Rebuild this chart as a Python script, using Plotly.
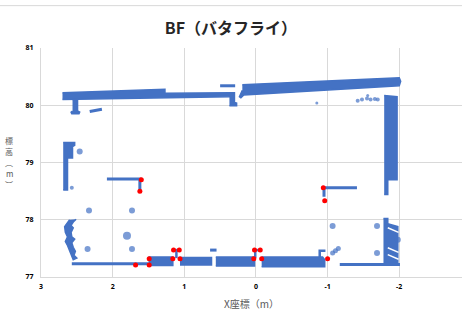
import plotly.graph_objects as go

BLUE = "#4472C4"
RED = "#FF0000"
GRID = "#D9D9D9"

# ---------------- data (metres) ----------------
# filled regions of the point cloud (outlines)
top_left_band_x = [2.70, 1.27, 1.27, 0.37, 0.37, 1.34, 2.70]
top_left_band_y = [80.22, 80.28, 80.21, 80.22, 80.15, 80.13, 80.10]
left_leg_x = [2.56, 2.49, 2.49, 2.46, 2.47, 2.57, 2.58, 2.56]
left_leg_y = [80.10, 80.10, 79.90, 79.88, 79.85, 79.85, 79.88, 79.90]
mid_leg_x = [0.37, 0.30, 0.30, 0.27, 0.27, 0.37]
mid_leg_y = [80.22, 80.22, 80.05, 80.04, 79.99, 79.99]
top_right_band_x = [0.19, -2.00, -2.02, -2.00, 0.17, 0.21, 0.23, 0.19]
top_right_band_y = [80.36, 80.48, 80.42, 80.34, 80.18, 80.13, 80.15, 80.26]
right_wall_up_x = [-1.79, -1.97, -1.97, -1.84, -1.84, -1.79]
right_wall_up_y = [80.17, 80.15, 78.70, 78.70, 78.44, 78.44]
left_wall_up_x = [2.69, 2.53, 2.53, 2.56, 2.56, 2.63, 2.63, 2.69]
left_wall_up_y = [79.35, 79.35, 79.30, 79.28, 79.08, 79.08, 78.52, 78.52]
left_wall_low_x = [2.51, 2.55, 2.58, 2.55, 2.58, 2.57, 2.53, 2.57, 2.55, 2.52, 2.54, 2.50,
                   2.55, 2.58, 2.60, 2.63, 2.66, 2.63, 2.66, 2.67, 2.63, 2.60]
left_wall_low_y = [78.01, 77.96, 77.90, 77.86, 77.78, 77.70, 77.66, 77.60, 77.52, 77.45, 77.38, 77.33,
                   77.30, 77.40, 77.48, 77.55, 77.62, 77.70, 77.78, 77.88, 77.95, 78.00]
right_wall_low_x = [-1.78, -1.84, -1.84, -1.98, -1.98, -1.78]
right_wall_low_y = [78.02, 78.02, 77.93, 77.88, 77.22, 77.22]
block1_x = [1.50, 1.16, 1.16, 1.50]
block1_y = [77.35, 77.35, 77.20, 77.20]
block2_x = [1.06, 0.62, 0.62, 1.06]
block2_y = [77.34, 77.34, 77.21, 77.21]
block3_x = [0.56, 0.02, 0.02, 0.56]
block3_y = [77.35, 77.35, 77.19, 77.19]
block4_x = [-0.08, -0.93, -0.96, -0.96, -0.08]
block4_y = [77.35, 77.35, 77.30, 77.18, 77.18]

# thin linear features
upper_left_L_x = [2.08, 1.62, 1.62]
upper_left_L_y = [78.71, 78.71, 78.52]
upper_right_L_x = [-1.41, -0.95, -0.95]
upper_right_L_y = [78.56, 78.56, 78.40]
bottom_left_x = [2.57, 1.50]
bottom_left_y = [77.23, 77.23]
bottom_right_x = [-1.17, -2.01]
bottom_right_y = [77.22, 77.22]
short_seg_x = [2.32, 2.15, None, 0.50, 0.29, None, 0.64, 0.55]
short_seg_y = [79.89, 79.93, None, 80.34, 80.34, None, 77.47, 77.47]
tee_x = [1.15, 1.07, None, 1.11, 1.11, None, 0.02, -0.07, None, 0.01, 0.01,
         None, -0.89, -0.89, -0.97]
tee_y = [77.47, 77.47, None, 77.47, 77.33, None, 77.47, 77.47, None, 77.47, 77.33,
         None, 77.35, 77.46, 77.46]

# gaps (stripes) in the lower right wall
stripe_x = [-1.84, -1.99, None, -1.84, -1.99, None, -1.84, -1.99]
stripe_y = [77.86, 77.78, None, 77.51, 77.43, None, 77.39, 77.31]

# isolated blue blobs
dots_x = [2.46, 2.57, 2.33, 1.73, 1.80, 2.35, 1.73, -0.85, -1.07, -1.69, -1.98,
          -1.69, -1.07, -1.11, -1.15, -1.42, -1.48, -1.55, -1.60, -1.66, -1.70, -1.56]
dots_y = [79.19, 78.56, 78.16, 78.16, 77.72, 77.49, 77.49, 80.04, 77.89, 77.89, 77.65,
          77.42, 77.42, 77.46, 77.50, 80.08, 80.10, 80.12, 80.10, 80.11, 80.10, 80.17]
dots_size = [6, 4, 6, 6, 8, 6, 6, 3, 6, 6, 6,
             6, 5, 5, 5, 4, 4, 4, 4, 4, 4, 3]

# red reference points
red_x = [1.60, 1.62, 1.68, 1.49, 1.49, 1.16, 1.15, 1.07, 1.06, 0.02, -0.06, 0.03,
         -0.08, -1.00, -0.94, -0.96]
red_y = [78.70, 78.50, 77.21, 77.21, 77.32, 77.32, 77.47, 77.47, 77.32, 77.47, 77.47,
         77.32, 77.32, 77.32, 78.56, 78.33]

x_ticks = [3, 2, 1, 0, -1, -2]
y_ticks = [77, 78, 79, 80, 81]

# y-axis title, written vertically (one character per row)
y_title_chars = ["標", "高", "︵", "m", "︶"]
y_title_rows_px = [140, 151, 162, 173, 184]

# ---------------- figure ----------------
fig = go.Figure()

polys = [
    (top_left_band_x, top_left_band_y), (left_leg_x, left_leg_y),
    (mid_leg_x, mid_leg_y), (top_right_band_x, top_right_band_y),
    (right_wall_up_x, right_wall_up_y), (left_wall_up_x, left_wall_up_y),
    (left_wall_low_x, left_wall_low_y),
    (right_wall_low_x, right_wall_low_y), (block1_x, block1_y),
    (block2_x, block2_y), (block3_x, block3_y), (block4_x, block4_y),
]
for px, py in polys:
    fig.add_trace(go.Scatter(x=px, y=py, mode="lines", fill="toself",
                             fillcolor=BLUE, line=dict(color=BLUE, width=1.5),
                             hoverinfo="skip", showlegend=False))

for lx, ly, w in [(upper_left_L_x, upper_left_L_y, 3), (upper_right_L_x, upper_right_L_y, 3),
                  (bottom_left_x, bottom_left_y, 3), (bottom_right_x, bottom_right_y, 3),
                  (short_seg_x, short_seg_y, 3), (tee_x, tee_y, 2.5)]:
    fig.add_trace(go.Scatter(x=lx, y=ly, mode="lines",
                             line=dict(color=BLUE, width=w),
                             hoverinfo="skip", showlegend=False))

fig.add_trace(go.Scatter(x=stripe_x, y=stripe_y, mode="lines",
                         line=dict(color="white", width=1.5),
                         hoverinfo="skip", showlegend=False))

fig.add_trace(go.Scatter(x=dots_x, y=dots_y, mode="markers",
                         marker=dict(color=BLUE, size=dots_size, line=dict(width=0)),
                         hoverinfo="skip", showlegend=False))

fig.add_trace(go.Scatter(x=red_x, y=red_y, mode="markers",
                         marker=dict(color=RED, size=5, line=dict(width=0)),
                         showlegend=False))

tickfont = dict(family="Noto Sans, DejaVu Sans", size=7, color="#000000", weight="bold")

PLOT_TOP, PLOT_H, PLOT_L, PLOT_W = 48, 229, 41, 421

annotations = [
    dict(text="X座標（m）", xref="paper", yref="paper", x=0.5, y=-0.114,
         xanchor="center", yanchor="middle", showarrow=False,
         font=dict(family="Noto Sans CJK JP", size=10, color="#595959")),
]
for ch, row in zip(y_title_chars, y_title_rows_px):
    annotations.append(dict(
        text=ch, xref="paper", yref="paper",
        x=(9 - PLOT_L) / PLOT_W, y=(PLOT_TOP + PLOT_H - row) / PLOT_H,
        xanchor="center", yanchor="middle", showarrow=False,
        font=dict(family="Noto Sans CJK JP", size=8, color="#595959")))

fig.update_layout(
    width=462, height=322,
    margin=dict(l=41, r=0, t=48, b=45),
    paper_bgcolor="white", plot_bgcolor="white",
    title=dict(text="BF（バタフライ）", x=0.5, xref="container", xanchor="center",
               y=1 - 28 / 322, yref="container", yanchor="middle",
               font=dict(family="Noto Sans CJK JP", size=16, color="#262626", weight="bold")),
    xaxis=dict(range=[3, -2.876], tickvals=x_ticks, ticktext=[str(v) for v in x_ticks],
               showgrid=True, gridcolor=GRID, gridwidth=1, zeroline=False,
               showline=True, linecolor=GRID, linewidth=1, ticks="",
               tickfont=tickfont, ticklabelstandoff=3),
    yaxis=dict(range=[77, 81], tickvals=y_ticks, ticktext=[str(v) for v in y_ticks],
               showgrid=True, gridcolor=GRID, gridwidth=1, zeroline=False,
               showline=True, linecolor=GRID, linewidth=1, ticks="",
               tickfont=tickfont, ticklabelstandoff=5),
    annotations=annotations,
    shapes=[dict(type="line", xref="paper", yref="paper", x0=-0.0974, x1=1,
                 y0=1.185, y1=1.185, line=dict(color=GRID, width=1))],
)

fig.write_html("out.html", config={"displayModeBar": False},
               post_script="document.body.style.margin='0px';document.body.style.padding='0px';")
